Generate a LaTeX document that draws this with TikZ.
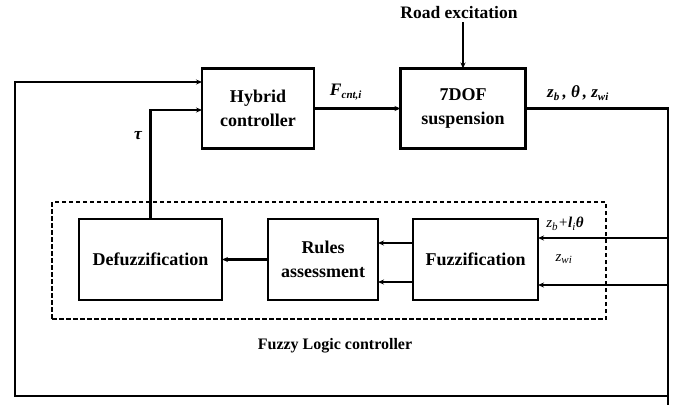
\documentclass[tikz,border=0pt]{standalone}
\usepackage{fontspec}
\setmainfont{Liberation Serif}
\usetikzlibrary{arrows.meta}
\newcommand\subsz{\fontsize{11}{11}\selectfont}
\begin{document}
\begin{tikzpicture}[x=1pt,y=-1pt,
  blk/.style={draw,line width=2.3pt,inner sep=0pt,outer sep=0pt,align=center,
    font=\fontsize{18}{24}\selectfont\bfseries},
  lab/.style={inner sep=0pt,font=\fontsize{17.5}{20}\selectfont\bfseries},
  wire/.style={line width=2.4pt,line join=miter},
  arr/.style={wire,-{Stealth[length=6pt,width=5pt]}}]
\useasboundingbox (0,0) rectangle (687,405);
% fuzzy logic container
\node[draw,dashed,dash pattern=on 4.5pt off 2.5pt,line width=2.2pt,minimum width=554pt,minimum height=117pt,inner sep=0pt] (flc) at (329,260.5) {};
% blocks
\node[blk,minimum width=112pt,minimum height=80pt] (hyb) at (258,108.5) {Hybrid\\controller};
\node[blk,minimum width=125pt,minimum height=80pt] (dof) at (463,108.5) {7DOF\\suspension};
\node[blk,minimum width=143pt,minimum height=81pt] (defz) at (150.5,259.5) {Defuzzification};
\node[blk,minimum width=110pt,minimum height=81pt] (rules) at (323,259.5) {Rules\\assessment};
\node[blk,minimum width=125pt,minimum height=81pt] (fuzz) at (475.5,259.5) {Fuzzification};
% labels
\node[lab] (road) at (459,13) {Road excitation};
\node[lab] (fcnt) at (346,92) {\itshape F\textsubscript{\subsz cnt,i}};
\node[lab,font=\fontsize{17}{19}\selectfont\bfseries] (outs) at (578,93) {\itshape z\textsubscript{\subsz b}\,, θ\,, z\textsubscript{\subsz wi}};
\node[lab] (tau) at (138,136) {\itshape τ};
\node[inner sep=0pt,font=\fontsize{15}{17}\selectfont\itshape] (in1lab) at (565,224) {z\textsubscript{\subsz b}+\textbf{l}\textsubscript{\subsz i}\textbf{θ}};
\node[inner sep=0pt,font=\fontsize{15}{17}\selectfont\itshape] (in2lab) at (564,259) {z\textsubscript{\subsz wi}};
\node[lab,font=\fontsize{16}{19}\selectfont\bfseries] (flclab) at (335,346) {Fuzzy Logic controller};
% coordinates of the loops
\coordinate (rt) at (668,108.5);
\coordinate (rb) at (668,396);
\coordinate (rend) at (668,405);
\coordinate (lb) at (15,396);
\coordinate (lt) at (15,82);
\coordinate (tc) at (150.5,110);
\coordinate (in1) at (668,238);
\coordinate (in2) at (668,285);
\coordinate (a1) at (0,243);
\coordinate (a2) at (0,282);
% connectors
\draw[arr] (road.south -| dof.north) ++(0,3) -- (dof.north);
\draw[arr] (hyb.east) -- (dof.west);
\draw[arr] (dof.east) -- (rt) -- (rb) -- (lb) -- (lt) -- (hyb.west |- lt);
\draw[wire] (rb) -- (rend);
\draw[arr] (defz.north) -- (tc) -- (hyb.west |- tc);
\draw[arr] (in1) -- (fuzz.east |- in1);
\draw[arr] (in2) -- (fuzz.east |- in2);
\draw[arr] (fuzz.west |- a1) -- (rules.east |- a1);
\draw[arr] (fuzz.west |- a2) -- (rules.east |- a2);
\draw[arr] (rules.west) -- (defz.east);
\end{tikzpicture}
\end{document}
